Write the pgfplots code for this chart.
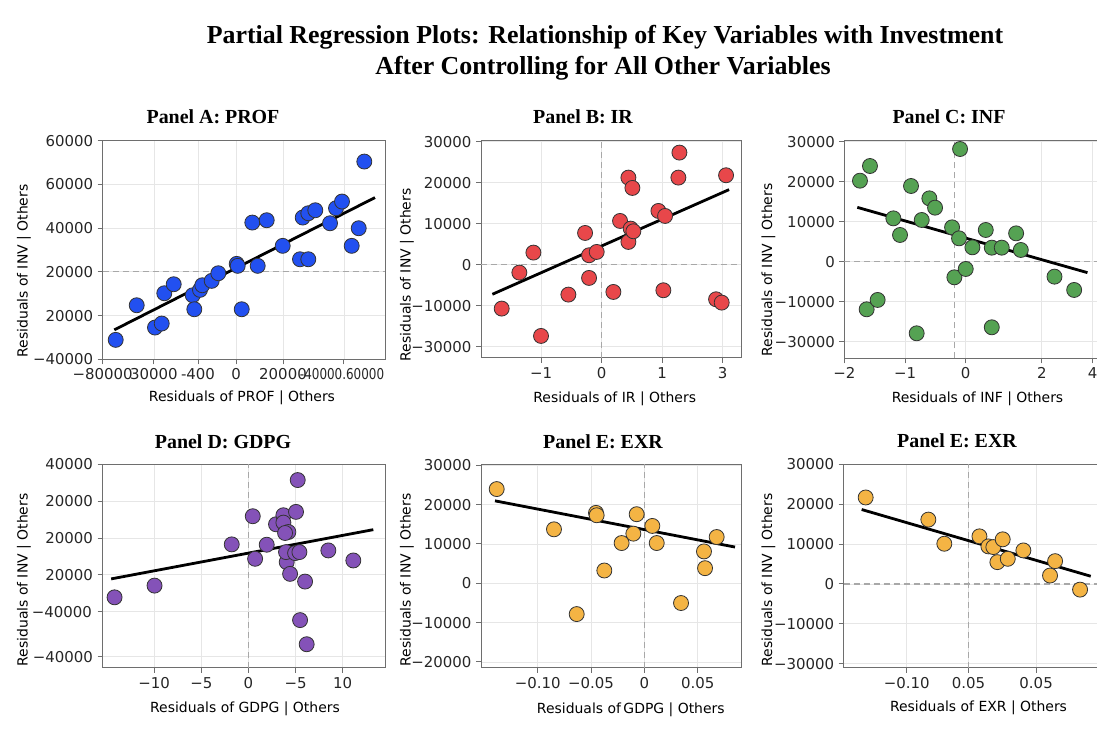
\documentclass[border=0pt]{standalone}
\usepackage{fontspec}
\setmainfont{DejaVu Sans}
\newfontfamily\ttlfont{Liberation Serif}
\usepackage{graphicx}
\usepackage{pgfplots}
\pgfplotsset{compat=1.18}

\definecolor{cA}{HTML}{2250F0}
\definecolor{cB}{HTML}{E8474A}
\definecolor{cC}{HTML}{55A253}
\definecolor{cD}{HTML}{8452B8}
\definecolor{cE}{HTML}{F4B444}
\definecolor{gridc}{HTML}{E6E6E6}
\definecolor{framec}{HTML}{6E6E6E}
\definecolor{dashc}{HTML}{A8A8A8}

\pgfplotsset{
 panel/.style={
  scale only axis, anchor=south west,
  scaled ticks=false,
  axis line style={framec, line width=1bp},
  tick style={framec, line width=1bp},
  major tick length=5bp,
  tick align=outside,
  xtick pos=bottom, ytick pos=left,
  grid=major,
  major grid style={gridc, line width=0.8bp},
  tick label style={font=\fontsize{15}{18}\selectfont, text=black!85},
  yticklabel style={xshift=-1bp},
  xticklabel style={yshift=-1bp},
 },
 pts/.style={only marks, mark=*, mark size=7.5bp, mark options={draw=black!80, line width=0.8bp, fill=#1}},
 fit/.style={black, line width=2.8bp, no marks},
 refl/.style={dashc, line width=1.2bp, dash pattern=on 6bp off 4bp, no marks},
}

\newcommand{\lab}{\fontsize{14}{16}\selectfont}
\newcommand{\ptitle}{\ttlfont\bfseries\fontsize{20}{24}\selectfont}

\begin{document}
\begin{tikzpicture}
\path[use as bounding box] (0bp,0bp) rectangle (1097bp,735bp);
\fill[white] (0bp,0bp) rectangle (1097bp,735bp);

% ---------------- Panel A ----------------
\begin{axis}[panel, at={(102.7bp,375.7bp)}, width=282.3bp, height=218.6bp,
  xmin=-56720, xmax=63400, ymin=-40000, ymax=60000,
  xtick={-56720,-34900,-16170,0,20000,45950},
  xticklabels={{−80000},{30000},{-400},{0},{20000},{\makebox[0pt][l]{\hspace{-44bp}\scalebox{0.8}[1]{-40000.60000}}}},
  ytick={-40000,-20000,0,20000,40000,60000},
  yticklabels={{−40000},{20000},{20000},{40000},{60000},{60000}}]
\addplot[refl] coordinates {(-56720,0) (63400,0)};
\addplot[fit] coordinates {(-51780,-26540) (59150,33990)};
\addplot[pts=cA] coordinates {
(-51190,-31110) (-42250,-15280) (-34470,-25480) (-31610,-23650) (-30510,-9790)
(-26510,-5670) (-18420,-10710) (-17740,-17110) (-15320,-8240) (-14340,-6130)
(-10340,-4120) (-7530,-640) (300,3660) (720,2750) (2430,-17110)
(6940,22550) (9230,2750) (13060,23610) (19870,11900) (27230,5760)
(28380,24840) (30760,5760) (30760,26810) (33740,28180) (40000,22230)
(42550,29100) (45100,32160) (49230,11900) (52210,19950) (54590,50460)};
\end{axis}

% ---------------- Panel B ----------------
\begin{axis}[panel, at={(481bp,377bp)}, width=260bp, height=217bp,
  xmin=-1.995, xmax=2.302, ymin=-22780, ymax=30150,
  xtick={-2,-1,0,1,2}, xticklabels={{−3},{−1},{0},{1},{3}},
  ytick={-20000,-10000,0,10000,20000,30000},
  yticklabels={{−30000},{−10000},{0},{10000},{20000},{30000}}]
\addplot[refl] coordinates {(-1.995,0) (2.302,0)};
\addplot[refl] coordinates {(0,-22780) (0,30150)};
\addplot[fit] coordinates {(-1.807,-7240) (2.105,18290)};
\addplot[pts=cB] coordinates {
(-1.653,-10730) (-1.361,-1950) (-1.129,2930) (-1.003,-17400) (-0.551,-7320)
(-0.275,7720) (-0.209,2280) (-0.209,-3250) (-0.083,3090) (0.193,-6670)
(0.303,10650) (0.441,21220) (0.441,5530) (0.507,18700) (0.479,8780)
(0.523,8130) (0.937,13090) (1.019,-6260) (1.047,11870) (1.284,27320)
(1.267,21220) (1.890,-8460) (1.983,-9270) (2.055,21790)};
\end{axis}

% ---------------- Panel C ----------------
\begin{axis}[panel, at={(844.3bp,376.7bp)}, width=255bp, height=217.6bp,
  xmin=-2.0, xmax=2.2, ymin=-24170, ymax=30250,
  xtick={-2,-1,0,1.253,2.09}, xticklabels={{−2},{−1},{0},{2},{4}},
  ytick={-20000,-10000,0,10000,20000,30000},
  yticklabels={{−30000},{−10000},{0},{10000},{20000},{30000}}]
\addplot[refl] coordinates {(-2.0,0) (2.2,0)};
\addplot[refl] coordinates {(-0.187,-24170) (-0.187,30250)};
\addplot[fit] coordinates {(-1.786,13580) (2.005,-2750)};
\addplot[pts=cC] coordinates {
(-1.742,20250) (-1.577,23920) (-1.632,-11920) (-1.451,-9580) (-1.192,10830)
(-1.082,6670) (-0.901,18920) (-0.808,-17920) (-0.725,10420) (-0.599,15830)
(-0.505,13500) (-0.225,8580) (-0.187,-3920) (-0.110,5830) (-0.093,28170)
(0,-1830) (0.110,3580) (0.330,7920) (0.429,3500) (0.429,-16420)
(0.593,3500) (0.830,7080) (0.907,2920) (1.462,-3750) (1.786,-7080)};
\end{axis}

% ---------------- Panel D ----------------
\begin{axis}[panel, at={(102.5bp,67.3bp)}, width=282.5bp, height=203.4bp,
  xmin=-15.48, xmax=14.49, ymin=-70360, ymax=40000,
  xtick={-10,-5,0,5,10}, xticklabels={{−10},{−5},{0},{−5},{10}},
  ytick={-64500,-40000,-20000,0,20000,40000},
  yticklabels={{−40000},{},{20000},{20000},{20000},{40000}}]
\addplot[refl] coordinates {(0,-70360) (0,40000)};
\addplot[fit] coordinates {(-14.56,-22180) (13.25,4545)};
\addplot[pts=cD] coordinates {
(-14.20,-32180) (-9.96,-25820) (-1.77,-3450) (0.46,11820) (0.71,-11270)
(1.94,-3640) (2.93,7450) (3.71,12360) (3.71,8360) (4.06,-13090)
(3.99,-7640) (4.24,3270) (3.89,2730) (4.42,-19450) (5.05,14180)
(4.95,-8180) (5.23,31450) (5.41,-7640) (5.48,-44540) (6.01,-23630)
(6.18,-57630) (8.48,-6730) (11.13,-12180)};
\end{axis}
\node[anchor=east, font=\fontsize{15}{18}\selectfont, text=black!85] at (95.5bp,123.3bp) {−40000};

% ---------------- Panel E ----------------
\begin{axis}[panel, at={(481bp,67.3bp)}, width=260bp, height=203.4bp,
  xmin=-0.1531, xmax=0.0906, ymin=-21470, ymax=30240,
  xtick={-0.1,-0.05,0,0.05}, xticklabels={{−0.10},{−0.05},{0},{0.05}},
  ytick={-20000,-10000,0,10000,20000,30000},
  yticklabels={{−20000},{−10000},{0},{10000},{20000},{30000}}]
\addplot[refl] coordinates {(0,-21470) (0,30240)};
\addplot[fit] coordinates {(-0.14,20950) (0.085,9200)};
\addplot[pts=cE] coordinates {
(-0.1384,23940) (-0.0847,13710) (-0.0634,-7840) (-0.0453,17890) (-0.0447,17290)
(-0.0375,3240) (-0.0213,10220) (-0.0103,12610) (-0.0072,17550) (0.0075,14570)
(0.0116,10220) (0.0344,-5030) (0.0559,8090) (0.0569,3830) (0.0678,11750)};
\end{axis}

% ---------------- Panel F ----------------
\begin{axis}[panel, at={(843.7bp,67.3bp)}, width=255.6bp, height=203.4bp,
  xmin=-0.0959, xmax=0.1007, ymin=-21010, ymax=30000,
  xtick={-0.0474,0,0.0521}, xticklabels={{−0.10},{0.05},{0.05}},
  ytick={-20000,-10000,0,10000,20000,30000},
  yticklabels={{−30000},{−10000},{0},{10000},{20000},{30000}}]
\addplot[refl] coordinates {(-0.0959,0) (0.1007,0)};
\addplot[refl] coordinates {(0,-21010) (0,30000)};
\addplot[fit] coordinates {(-0.0821,18660) (0.0941,1930)};
\addplot[pts=cE] coordinates {
(-0.0790,21680) (-0.0308,16130) (-0.0185,10080) (0.0085,11930) (0.0154,9410)
(0.0192,9240) (0.0223,5460) (0.0264,11180) (0.0303,6300) (0.0423,8400)
(0.0628,2100) (0.0667,5710) (0.0859,-1430)};
\end{axis}

% ---------------- Titles and labels ----------------
\node[font=\ttlfont\bfseries\fontsize{26}{30}\selectfont, anchor=base] at (605bp,691.7bp)
  {Partial Regression Plots: Relationship of Key Variables with Investment};
\node[font=\ttlfont\bfseries\fontsize{26}{30}\selectfont, anchor=base] at (603bp,660bp)
  {After Controlling for All Other Variables};

\node[font=\ptitle, anchor=base] at (213bp,611.7bp) {Panel A: PROF};
\node[font=\ptitle, anchor=base] at (583bp,611.7bp) {Panel B: IR};
\node[font=\ptitle, anchor=base] at (949bp,611.7bp) {Panel C: INF};
\node[font=\ptitle, anchor=base] at (223bp,286bp) {Panel D: GDPG};
\node[font=\ptitle, anchor=base] at (603bp,286bp) {Panel E: EXR};
\node[font=\ptitle, anchor=base] at (957bp,287bp) {Panel E: EXR};

\node[font=\lab, anchor=base] at (242bp,333bp) {Residuals of PROF | Others};
\node[font=\lab, anchor=base] at (614.7bp,332bp) {Residuals of IR | Others};
\node[font=\lab, anchor=base] at (977.5bp,332bp) {Residuals of INF | Others};
\node[font=\lab, anchor=base] at (245bp,23bp) {Residuals of GDPG | Others};
\node[font=\lab, anchor=base] at (630.8bp,22bp) {Residuals of\hspace{-2bp} GDPG | Others};
\node[font=\lab, anchor=base] at (978.5bp,24bp) {Residuals of EXR | Others};

\node[font=\lab, rotate=90] at (24bp,464bp) {Residuals of INV | Others};
\node[font=\lab, rotate=90] at (407bp,460bp) {Residuals of INV | Others};
\node[font=\lab, rotate=90] at (768.5bp,465bp) {Residuals of INV | Others};
\node[font=\lab, rotate=90] at (24bp,155bp) {Residuals of INV | Others};
\node[font=\lab, rotate=90] at (407bp,155bp) {Residuals of INV | Others};
\node[font=\lab, rotate=90] at (768.5bp,155bp) {Residuals of INV | Others};
\end{tikzpicture}
\end{document}
